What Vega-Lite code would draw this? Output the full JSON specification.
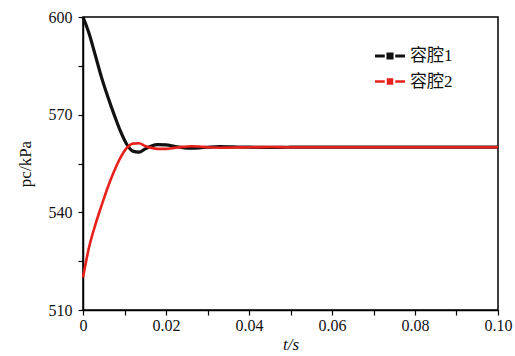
{
  "$schema": "https://vega.github.io/schema/vega-lite/v6.json",
  "width": 415,
  "height": 293,
  "autosize": "none",
  "padding": {"left": 83, "top": 17, "right": 17, "bottom": 46},
  "background": "white",
  "config": {
    "view": {"stroke": "black", "strokeWidth": 1.5},
    "axis": {
      "labelFont": "Times New Roman, Liberation Serif, serif",
      "titleFont": "Times New Roman, Liberation Serif, serif",
      "labelFontSize": 16,
      "titleFontSize": 17,
      "labelColor": "#111",
      "titleColor": "#111",
      "domainColor": "black",
      "domainWidth": 1.5,
      "tickColor": "black",
      "tickWidth": 1.2,
      "tickSize": 5,
      "grid": false,
      "titleFontWeight": "normal"
    }
  },
  "data": {
    "values": [
      {"t": 0, "p": 600, "s": "容腔1"},
      {"t": 0.0015, "p": 594.8, "s": "容腔1"},
      {"t": 0.003, "p": 588.1, "s": "容腔1"},
      {"t": 0.0045, "p": 581.3, "s": "容腔1"},
      {"t": 0.006, "p": 575.4, "s": "容腔1"},
      {"t": 0.0075, "p": 570.0, "s": "容腔1"},
      {"t": 0.009, "p": 565.0, "s": "容腔1"},
      {"t": 0.0105, "p": 561.0, "s": "容腔1"},
      {"t": 0.012, "p": 558.8, "s": "容腔1"},
      {"t": 0.0135, "p": 558.5, "s": "容腔1"},
      {"t": 0.015, "p": 559.5, "s": "容腔1"},
      {"t": 0.0165, "p": 560.4, "s": "容腔1"},
      {"t": 0.018, "p": 560.8, "s": "容腔1"},
      {"t": 0.02, "p": 560.7, "s": "容腔1"},
      {"t": 0.022, "p": 560.3, "s": "容腔1"},
      {"t": 0.024, "p": 559.9, "s": "容腔1"},
      {"t": 0.026, "p": 559.7, "s": "容腔1"},
      {"t": 0.028, "p": 559.8, "s": "容腔1"},
      {"t": 0.03, "p": 560.0, "s": "容腔1"},
      {"t": 0.033, "p": 560.2, "s": "容腔1"},
      {"t": 0.036, "p": 560.1, "s": "容腔1"},
      {"t": 0.04, "p": 560.0, "s": "容腔1"},
      {"t": 0.045, "p": 559.95, "s": "容腔1"},
      {"t": 0.05, "p": 560, "s": "容腔1"},
      {"t": 0.06, "p": 560, "s": "容腔1"},
      {"t": 0.07, "p": 560, "s": "容腔1"},
      {"t": 0.08, "p": 560, "s": "容腔1"},
      {"t": 0.09, "p": 560, "s": "容腔1"},
      {"t": 0.1, "p": 560, "s": "容腔1"},
      {"t": 0, "p": 520, "s": "容腔2"},
      {"t": 0.0015, "p": 529.5, "s": "容腔2"},
      {"t": 0.003, "p": 536.3, "s": "容腔2"},
      {"t": 0.0045, "p": 542.2, "s": "容腔2"},
      {"t": 0.006, "p": 547.8, "s": "容腔2"},
      {"t": 0.0075, "p": 552.6, "s": "容腔2"},
      {"t": 0.009, "p": 556.7, "s": "容腔2"},
      {"t": 0.0105, "p": 559.7, "s": "容腔2"},
      {"t": 0.012, "p": 561.1, "s": "容腔2"},
      {"t": 0.0135, "p": 561.2, "s": "容腔2"},
      {"t": 0.015, "p": 560.4, "s": "容腔2"},
      {"t": 0.0165, "p": 559.8, "s": "容腔2"},
      {"t": 0.018, "p": 559.5, "s": "容腔2"},
      {"t": 0.02, "p": 559.5, "s": "容腔2"},
      {"t": 0.022, "p": 559.8, "s": "容腔2"},
      {"t": 0.024, "p": 560.1, "s": "容腔2"},
      {"t": 0.026, "p": 560.3, "s": "容腔2"},
      {"t": 0.028, "p": 560.2, "s": "容腔2"},
      {"t": 0.03, "p": 560.0, "s": "容腔2"},
      {"t": 0.033, "p": 559.85, "s": "容腔2"},
      {"t": 0.036, "p": 559.9, "s": "容腔2"},
      {"t": 0.04, "p": 560.0, "s": "容腔2"},
      {"t": 0.045, "p": 560.05, "s": "容腔2"},
      {"t": 0.05, "p": 560, "s": "容腔2"},
      {"t": 0.06, "p": 560, "s": "容腔2"},
      {"t": 0.07, "p": 560, "s": "容腔2"},
      {"t": 0.08, "p": 560, "s": "容腔2"},
      {"t": 0.09, "p": 560, "s": "容腔2"},
      {"t": 0.1, "p": 560, "s": "容腔2"}
    ]
  },
  "mark": {"type": "line", "interpolate": "monotone"},
  "encoding": {
    "x": {
      "field": "t",
      "type": "quantitative",
      "scale": {"domain": [0, 0.1], "nice": false},
      "axis": {
        "values": [0, 0.01, 0.02, 0.03, 0.04, 0.05, 0.06, 0.07, 0.08, 0.09, 0.1],
        "labelExpr": "datum.value == 0 ? '0' : (round(datum.value * 100) % 2 == 0 ? format(datum.value, '.2f') : '')",
        "labelPadding": 2,
        "labelFlush": false,
        "title": "t/s",
        "titleFontStyle": "italic",
        "titlePadding": 3,
        "encode": {"ticks": {"update": {"y2": {"value": -5}}}}
      }
    },
    "y": {
      "field": "p",
      "type": "quantitative",
      "scale": {"domain": [510, 600], "nice": false, "zero": false},
      "axis": {
        "values": [510, 525, 540, 555, 570, 585, 600],
        "labelExpr": "datum.value % 30 == 0 ? datum.value : ''",
        "labelPadding": 6,
        "labelFlush": false,
        "title": "pc/kPa",
        "titlePadding": 14,
        "encode": {"ticks": {"update": {"x2": {"value": 5}}}}
      }
    },
    "color": {
      "field": "s",
      "type": "nominal",
      "scale": {"domain": ["容腔1", "容腔2"], "range": ["#111111", "#e8201c"]},
      "legend": {
        "title": null,
        "orient": "none",
        "legendX": 290,
        "legendY": 22,
        "symbolType": "M-1,0H-0.35M0.35,0H1M-0.13,-0.13H0.13V0.13H-0.13Z",
        "symbolSize": 900,
        "symbolStrokeWidth": 1.5,
        "labelFont": "Times New Roman, Liberation Serif, Noto Sans CJK SC",
        "labelFontSize": 17,
        "labelColor": "#111",
        "labelOffset": 3,
        "rowPadding": -3,
        "encode": {
          "symbols": {
            "update": {
              "stroke": {"scale": "color", "field": "value"},
              "fill": {"scale": "color", "field": "value"},
              "strokeWidth": {"value": 1.5},
              "size": {"value": 900}
            }
          }
        }
      }
    },
    "strokeWidth": {
      "field": "s",
      "type": "nominal",
      "scale": {"domain": ["容腔1", "容腔2"], "range": [3.2, 2.6]},
      "legend": null
    }
  }
}
